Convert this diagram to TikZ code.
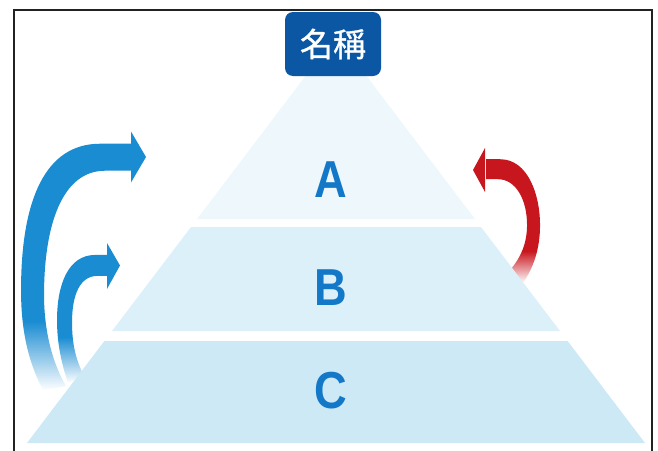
\documentclass[tikz,border=0pt]{standalone}
\usepackage{fontspec}
\setmainfont{Liberation Sans}
\newfontfamily\cjkfont[FakeBold=1]{Noto Sans CJK TC}
\usetikzlibrary{fadings}
\definecolor{tierA}{HTML}{EEF8FC}
\definecolor{tierB}{HTML}{DCF0F9}
\definecolor{tierC}{HTML}{CCE9F5}
\definecolor{titleblue}{HTML}{0B57A4}
\definecolor{letterblue}{HTML}{1478C8}
\definecolor{arrowblue}{HTML}{1A8CD2}
\definecolor{arrowred}{HTML}{C8161E}
\definecolor{framecol}{HTML}{222222}

% the path bounding box maps to -25bp..25bp of a fading
\begin{tikzfadingfrompicture}[name=fadebig]
  \fill[transparent!0] (-150bp,-11bp) rectangle (150bp,150bp);
  \shade[top color=transparent!0, bottom color=transparent!100] (-150bp,-25bp) rectangle (150bp,-11bp);
  \fill[transparent!100] (-150bp,-150bp) rectangle (150bp,-25bp);
\end{tikzfadingfrompicture}
\begin{tikzfadingfrompicture}[name=fadesmall]
  \fill[transparent!0] (-150bp,-7bp) rectangle (150bp,150bp);
  \shade[top color=transparent!0, bottom color=transparent!100] (-150bp,-25bp) rectangle (150bp,-7bp);
  \fill[transparent!100] (-150bp,-150bp) rectangle (150bp,-25bp);
\end{tikzfadingfrompicture}
\begin{tikzfadingfrompicture}[name=fadered]
  \fill[transparent!0] (-150bp,-12bp) rectangle (150bp,150bp);
  \shade[top color=transparent!0, bottom color=transparent!100] (-150bp,-25bp) rectangle (150bp,-12bp);
  \fill[transparent!100] (-150bp,-150bp) rectangle (150bp,-25bp);
\end{tikzfadingfrompicture}

\tikzset{
  titlebox/.style={fill=titleblue, text=white, rounded corners=8pt,
    minimum width=96pt, minimum height=64pt, inner sep=0pt,
    font=\cjkfont\fontsize{33}{33}\selectfont},
  tierletter/.style={text=letterblue, inner sep=0pt, xscale=0.87,
    font=\bfseries\fontsize{52}{52}\selectfont},
}

\begin{document}
\begin{tikzpicture}[x=1pt,y=-1pt]
\useasboundingbox (0,0) rectangle (658,450);

% big blue arrow
\fill[arrowblue, path fading=fadebig] (132,143.5) -- (100,143.5) .. controls (45,143.5) and (21,200) .. (21,290) .. controls (21,335) and (30,365) .. (43,390) -- (66,386) .. controls (52,362) and (44,330) .. (44,295) .. controls (44,225) and (62,170.5) .. (105,170.5) -- (132,170.5) -- cycle;
\fill[arrowblue] (131,131.5) -- (146,157) -- (131,182.5) -- cycle;

% small blue arrow
\fill[arrowblue, path fading=fadesmall] (108,255) -- (95,255) .. controls (68,255) and (57,285) .. (57,320) .. controls (57,345) and (62,365) .. (68,383) -- (84,376) .. controls (76,360) and (72,345) .. (72,322) .. controls (72,295) and (80,276) .. (97,276) -- (108,276) -- cycle;
\fill[arrowblue] (107,243) -- (120,265.5) -- (107,289) -- cycle;

% red arrow
\fill[arrowred, path fading=fadered] (486,159.3) -- (500,159.3) .. controls (528,159.3) and (540,195) .. (540,225) .. controls (540,250) and (533,268) .. (523,283) -- (511,269) .. controls (521,257) and (527,243) .. (527,225) .. controls (527,200) and (516,179.3) .. (498,179.3) -- (486,179.3) -- cycle;
\fill[arrowred] (485,148) -- (473,170) -- (485,192) -- cycle;

% pyramid tiers
\fill[tierA] (310,70) -- (362,70) -- (475,219) -- (197,219) -- cycle;
\fill[tierB] (191,227) -- (481,227) -- (560,331) -- (112,331) -- cycle;
\fill[tierC] (104.4,341) -- (567.6,341) -- (645,443) -- (27,443) -- cycle;

% title
\node[titlebox] (title) at (333,44) {名稱};

% letters
\node[tierletter] (la) at (331,180) {A};
\node[tierletter] (lb) at (331,288) {B};
\node[tierletter] (lc) at (331,391) {C};

% frame
\draw[framecol, line width=1.5pt] (14,455) -- (14,10) -- (652,10) -- (652,455);
\end{tikzpicture}
\end{document}
